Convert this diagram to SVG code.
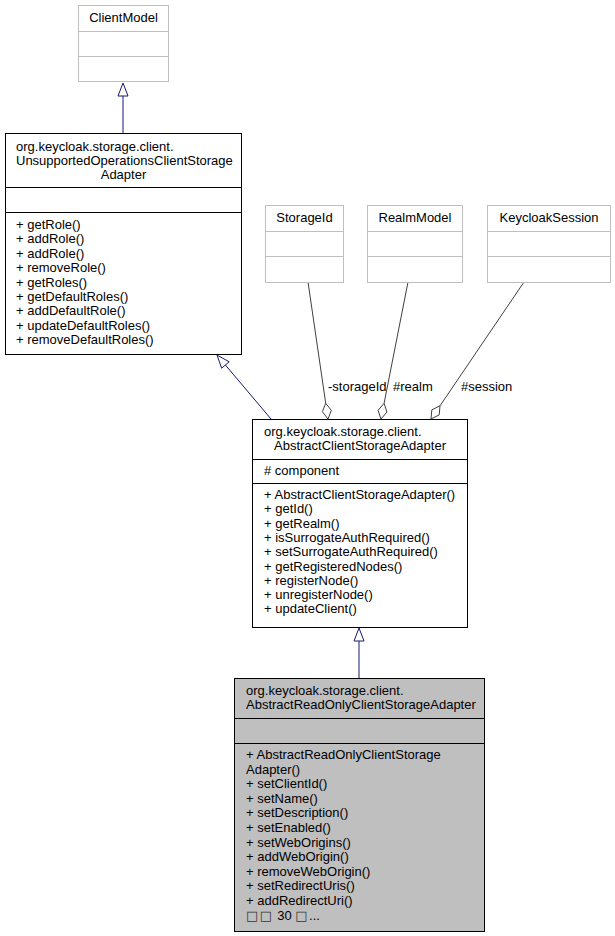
<svg xmlns="http://www.w3.org/2000/svg" width="615" height="936" viewBox="0 0 615 936">
<style>
text{font-family:"Liberation Sans",Arial,sans-serif;font-size:13px;fill:#000}
.c{text-anchor:middle}
.tofu{font-family:"DejaVu Sans",sans-serif;font-size:13px;fill:#333;letter-spacing:1.5px}
.box{fill:#fff;stroke:#000;stroke-width:1}
.gbox{fill:#fff;stroke:#bfbfbf;stroke-width:1}
.cur{fill:#bfbfbf;stroke:#000;stroke-width:1}
.sep{stroke:#000;stroke-width:1}
.gsep{stroke:#bfbfbf;stroke-width:1}
.inh{stroke:#191970;stroke-width:1;fill:none}
.inhh{stroke:#191970;stroke-width:1;fill:#fff}
.agg{stroke:#404040;stroke-width:1;fill:none}
.aggh{stroke:#404040;stroke-width:1;fill:#fff}
</style>
<rect width="615" height="936" fill="#fff"/>
<g id="connectors">
<line class="inh" x1="123" y1="96" x2="123" y2="133"/>
<polygon class="inhh" points="123,83 118,96 128,96"/>
<line class="inh" x1="225.4" y1="365" x2="271" y2="419"/>
<polygon class="inhh" points="217,355 221.6,368.2 229.2,361.8"/>
<line class="inh" x1="359" y1="641" x2="359" y2="678"/>
<polygon class="inhh" points="359,628 354,641 364,641"/>
<line class="agg" x1="325.7" y1="403.2" x2="308" y2="282"/>
<polygon class="aggh" points="328,419 331.3,410.4 325.7,403.2 322.4,411.7"/>
<line class="agg" x1="384.1" y1="403.3" x2="408" y2="282"/>
<polygon class="aggh" points="381,419 386.9,412.1 384.1,403.3 378.1,410.3"/>
<line class="agg" x1="440" y1="405.8" x2="524" y2="282"/>
<polygon class="aggh" points="431,419 439.2,414.9 440,405.8 431.8,409.9"/>
<text x="328" y="391">-storageId</text>
<text x="393" y="391">#realm</text>
<text x="461" y="391">#session</text>
</g>
<g id="ClientModel">
<rect class="gbox" x="78.5" y="5.5" width="90" height="76"/>
<line class="gsep" x1="78.5" y1="31.5" x2="168.5" y2="31.5"/>
<line class="gsep" x1="78.5" y1="56.5" x2="168.5" y2="56.5"/>
<text class="c" x="123.5" y="22">ClientModel</text>
</g>
<g id="UnsupportedOperationsClientStorageAdapter">
<rect class="box" x="5.5" y="133.5" width="236" height="221"/>
<line class="sep" x1="5.5" y1="187.5" x2="241.5" y2="187.5"/>
<line class="sep" x1="5.5" y1="212.5" x2="241.5" y2="212.5"/>
<text x="16" y="151">org.keycloak.storage.client.</text>
<text x="16" y="165">UnsupportedOperationsClientStorage</text>
<text class="c" x="123.5" y="179">Adapter</text>
<text x="16" y="229">+ getRole()</text>
<text x="16" y="243.4">+ addRole()</text>
<text x="16" y="257.8">+ addRole()</text>
<text x="16" y="272.2">+ removeRole()</text>
<text x="16" y="286.6">+ getRoles()</text>
<text x="16" y="301">+ getDefaultRoles()</text>
<text x="16" y="315.4">+ addDefaultRole()</text>
<text x="16" y="329.8">+ updateDefaultRoles()</text>
<text x="16" y="344.2">+ removeDefaultRoles()</text>
</g>
<g id="StorageId">
<rect class="gbox" x="265.5" y="205.5" width="78" height="77"/>
<line class="gsep" x1="265.5" y1="231.5" x2="343.5" y2="231.5"/>
<line class="gsep" x1="265.5" y1="256.5" x2="343.5" y2="256.5"/>
<text class="c" x="304.5" y="222">StorageId</text>
</g>
<g id="RealmModel">
<rect class="gbox" x="367.5" y="205.5" width="95" height="77"/>
<line class="gsep" x1="367.5" y1="231.5" x2="462.5" y2="231.5"/>
<line class="gsep" x1="367.5" y1="256.5" x2="462.5" y2="256.5"/>
<text class="c" x="415" y="222">RealmModel</text>
</g>
<g id="KeycloakSession">
<rect class="gbox" x="487.5" y="205.5" width="123" height="77"/>
<line class="gsep" x1="487.5" y1="231.5" x2="610.5" y2="231.5"/>
<line class="gsep" x1="487.5" y1="256.5" x2="610.5" y2="256.5"/>
<text class="c" x="549" y="222">KeycloakSession</text>
</g>
<g id="AbstractClientStorageAdapter">
<rect class="box" x="252.5" y="419.5" width="215" height="208"/>
<line class="sep" x1="252.5" y1="459.5" x2="467.5" y2="459.5"/>
<line class="sep" x1="252.5" y1="483.5" x2="467.5" y2="483.5"/>
<text x="264" y="436">org.keycloak.storage.client.</text>
<text class="c" x="360" y="450">AbstractClientStorageAdapter</text>
<text x="264" y="475"># component</text>
<text x="264" y="499">+ AbstractClientStorageAdapter()</text>
<text x="264" y="513.3">+ getId()</text>
<text x="264" y="527.6">+ getRealm()</text>
<text x="264" y="541.9">+ isSurrogateAuthRequired()</text>
<text x="264" y="556.2">+ setSurrogateAuthRequired()</text>
<text x="264" y="570.5">+ getRegisteredNodes()</text>
<text x="264" y="584.8">+ registerNode()</text>
<text x="264" y="599.1">+ unregisterNode()</text>
<text x="264" y="613.4">+ updateClient()</text>
</g>
<g id="AbstractReadOnlyClientStorageAdapter">
<rect class="cur" x="234.5" y="678.5" width="250" height="253"/>
<line class="sep" x1="234.5" y1="718.5" x2="484.5" y2="718.5"/>
<line class="sep" x1="234.5" y1="743.5" x2="484.5" y2="743.5"/>
<text x="246" y="695">org.keycloak.storage.client.</text>
<text x="246" y="709">AbstractReadOnlyClientStorageAdapter</text>
<text x="246" y="759">+ AbstractReadOnlyClientStorage</text>
<text x="246" y="773.6">Adapter()</text>
<text x="246" y="788.2">+ setClientId()</text>
<text x="246" y="802.8">+ setName()</text>
<text x="246" y="817.4">+ setDescription()</text>
<text x="246" y="832">+ setEnabled()</text>
<text x="246" y="846.6">+ setWebOrigins()</text>
<text x="246" y="861.2">+ addWebOrigin()</text>
<text x="246" y="875.8">+ removeWebOrigin()</text>
<text x="246" y="890.4">+ setRedirectUris()</text>
<text x="246" y="905">+ addRedirectUri()</text>
<text x="246" y="920"><tspan class="tofu">□□</tspan> 30 <tspan class="tofu">□</tspan>...</text>
</g>
</svg>
